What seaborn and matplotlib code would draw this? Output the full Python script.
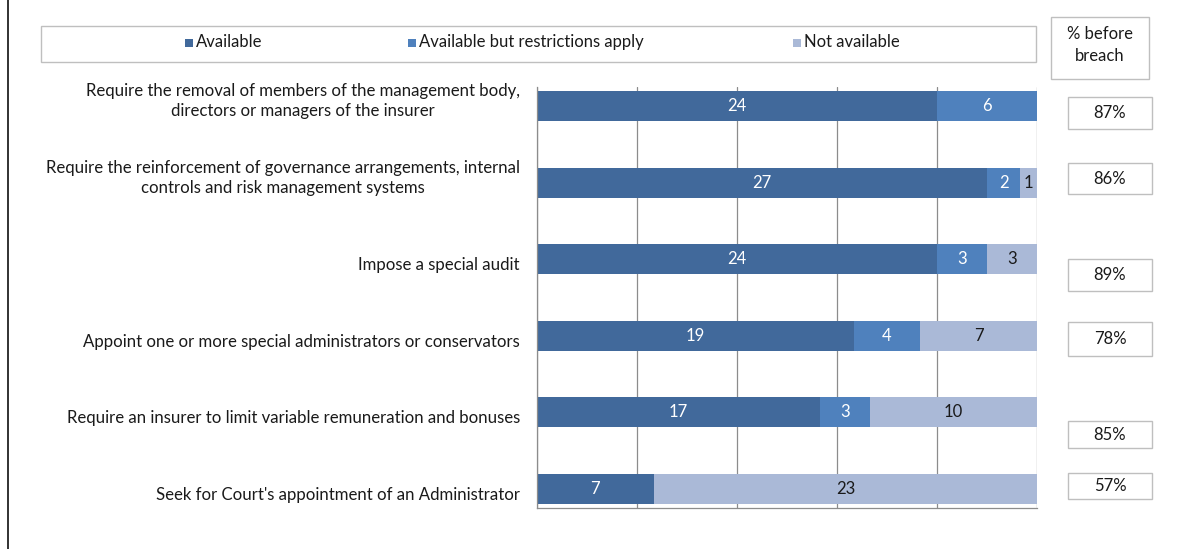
import numpy as np
import pandas as pd
import matplotlib
matplotlib.use("Agg")
import matplotlib.pyplot as plt
from matplotlib.patches import Rectangle
from matplotlib.lines import Line2D
import seaborn as sns

# ---- data -------------------------------------------------------------
measures = [
    "Require the removal of members of the management body,\ndirectors or managers of the insurer",
    "Require the reinforcement of governance arrangements, internal\ncontrols and risk management systems",
    "Impose a special audit",
    "Appoint one or more special administrators or conservators",
    "Require an insurer to limit variable remuneration and bonuses",
    "Seek for Court's appointment of an Administrator",
]
available = [24, 27, 24, 19, 17, 7]
restricted = [6, 2, 3, 4, 3, 0]
not_available = [0, 1, 3, 7, 10, 23]
pct_before_breach = ["87%", "86%", "89%", "78%", "85%", "57%"]
pct_header = "% before\nbreach"
series_names = ["Available", "Available but restrictions apply", "Not available"]

# ---- style ------------------------------------------------------------
colors = ["#41699B", "#4F81BD", "#AAB9D7"]
label_colors = ["white", "white", "#1a1a1a"]
grid_color = "#8C8C8C"
box_color = "#BFBFBF"
FS = 12

sns.set_style("white")
plt.rcParams["font.family"] = ["Lato", "DejaVu Sans"]
plt.rcParams["text.color"] = "#1a1a1a"

W, H = 1198, 549
fig = plt.figure(figsize=(W / 100, H / 100), dpi=100)
ax = fig.add_axes([537 / W, 1 - 508 / H, 500 / W, 421 / H])

df = pd.DataFrame({
    "measure": measures,
    "available": available,
    "restricted": restricted,
    "not_available": not_available,
})
cum = np.cumsum(np.vstack([available, restricted, not_available]), axis=0)
df["c1"], df["c2"], df["c3"] = cum[0], cum[1], cum[2]

# stacked bars drawn as overlapping cumulative totals (widest first)
for col, c in zip(["c3", "c2", "c1"], colors[::-1]):
    sns.barplot(data=df, y="measure", x=col, order=measures, orient="h",
                color=c, saturation=1, width=0.39, errorbar=None, ax=ax,
                linewidth=0, zorder=2)

# segment value labels
for i in range(len(measures)):
    left = 0
    for k, vals in enumerate([available, restricted, not_available]):
        v = vals[i]
        if v > 0:
            ax.text(left + v / 2, i, str(v), ha="center", va="center",
                    color=label_colors[k], fontsize=FS, zorder=4)
        left += v

ax.set_xlim(0, 30)
ax.set_ylim(5.25, -0.25)
ax.set_xlabel("")
ax.set_ylabel("")

ax.set_xticks(np.arange(0, 31, 6))
ax.set_xticklabels([])
ax.tick_params(axis="x", length=4, color=grid_color, direction="out")
ax.xaxis.grid(True, color=grid_color, linewidth=0.9, zorder=0)
ax.yaxis.grid(False)
ax.set_axisbelow(True)

# category labels: two-line labels sit a little high, single-line ones low
ax.set_yticks([])
for i, name in enumerate(measures):
    dy_px = 5 if "\n" in name else -6
    ax.annotate(name, xy=(0, i), xycoords=("axes fraction", "data"),
                xytext=(-17 * 0.72, dy_px * 0.72), textcoords="offset points",
                ha="right", va="center", multialignment="center",
                fontsize=12.1, linespacing=1.3, annotation_clip=False)
ax.set_yticks(np.arange(-0.25, 5.3, 0.5), minor=True)
ax.tick_params(axis="y", which="minor", length=4, color=grid_color,
               direction="out")

for s in ["top", "right"]:
    ax.spines[s].set_visible(False)
for s in ["left", "bottom"]:
    ax.spines[s].set_color(grid_color)
    ax.spines[s].set_linewidth(0.9)


def fx(px):
    return px / W


def fy(py):
    return 1 - py / H


# legend box
fig.add_artist(Rectangle((fx(41), fy(62)), fx(1036) - fx(41), fy(26) - fy(62),
                         transform=fig.transFigure, facecolor="none",
                         edgecolor=box_color, linewidth=1))
legend_x = [185, 408, 793]
for x0, name, c in zip(legend_x, series_names, colors):
    fig.add_artist(Rectangle((fx(x0), fy(47)), 8 / W, 8 / H,
                             transform=fig.transFigure, facecolor=c,
                             edgecolor="none"))
    fig.text(fx(x0 + 11), fy(42), name, ha="left", va="center", fontsize=FS)

# side panel: header and percentage boxes
fig.add_artist(Rectangle((fx(1051), fy(79)), fx(1149) - fx(1051), fy(17) - fy(79),
                         transform=fig.transFigure, facecolor="none",
                         edgecolor=box_color, linewidth=1))
fig.text(fx(1100), fy(45), pct_header, ha="center", va="center",
         multialignment="center", fontsize=FS, linespacing=1.45)

pct_boxes = [(97, 129), (163, 194), (259, 291), (322, 356), (421, 448), (473, 499)]
for (t, b), p in zip(pct_boxes, pct_before_breach):
    fig.add_artist(Rectangle((fx(1068), fy(b)), fx(1152) - fx(1068), fy(t) - fy(b),
                             transform=fig.transFigure, facecolor="none",
                             edgecolor=box_color, linewidth=1))
    fig.text(fx(1110), fy((t + b) / 2), p, ha="center", va="center", fontsize=FS)

# frame line on the left edge
fig.add_artist(Line2D([fx(8), fx(8)], [0, 1], transform=fig.transFigure,
                      color="#222222", linewidth=1.3))

fig.savefig("out.png", dpi=100)
